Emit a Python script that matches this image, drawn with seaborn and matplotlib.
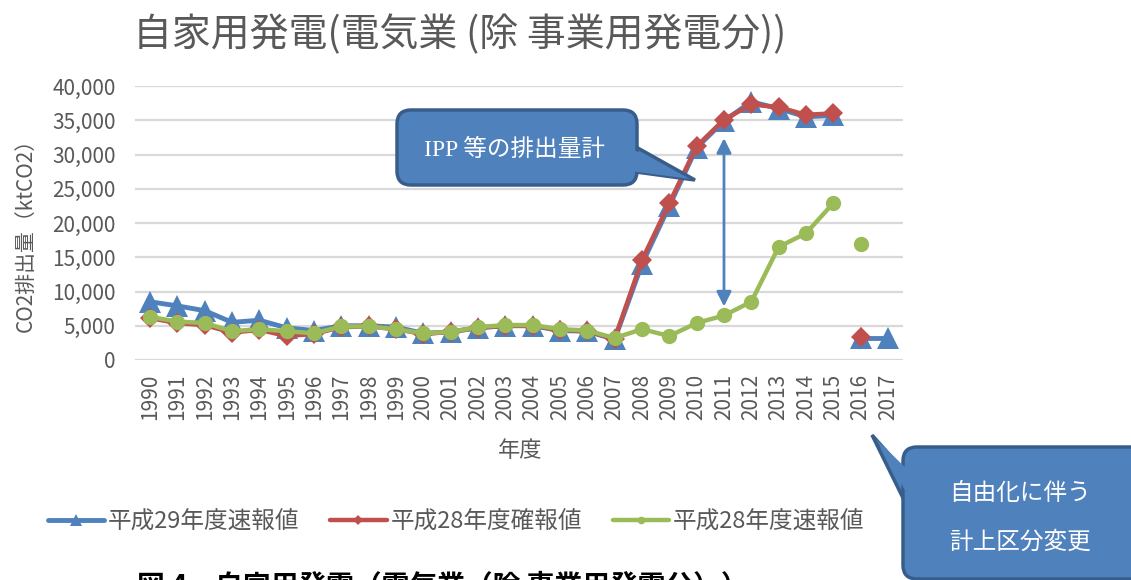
import numpy as np
import pandas as pd
import matplotlib.pyplot as plt
import matplotlib.transforms as mtransforms
from matplotlib.patches import FancyBboxPatch, Polygon
import seaborn as sns

# data (ktCO2)
years = list(range(1990, 2018))
h29_prelim = [8500, 7900, 7200, 5500, 5800, 4700, 4300, 5000, 5000, 4800,
              3900, 4100, 4700, 5000, 5000, 4300, 4200, 3000, 14000, 22500,
              31000, 34900, 37700, 36700, 35500, 35700, 3200, 3200]
h28_final = [6100, 5400, 5100, 4000, 4400, 3500, 3800, 4800, 4900, 4500,
             3800, 4100, 4700, 5000, 5000, 4400, 4200, 3100, 14600, 22900,
             31200, 35100, 37300, 36900, 35800, 36000, 3300]
h28_prelim = [6300, 5600, 5400, 4200, 4500, 4200, 3900, 4900, 4900, 4500,
              3900, 4100, 4800, 5100, 5100, 4500, 4300, 3200, 4500, 3500,
              5400, 6500, 8500, 16500, 18500, 22900, 16900]
series_names = ["平成29年度速報値", "平成28年度確報値", "平成28年度速報値"]
break_year = 2016  # lines are not joined across this year
yticks = list(range(0, 40001, 5000))

title = "自家用発電(電気業 (除 事業用発電分))"
caption = "図 4　自家用発電（電気業（除 事業用発電分））"

W, H = 1131, 580
BLUE, RED, GREEN = "#4F81BD", "#C0504D", "#9BBB59"
GREY = "#595959"

sns.set_theme(style="white")
plt.rcParams["font.family"] = ["Noto Sans CJK JP", "DejaVu Sans"]

fig = plt.figure(figsize=(W / 100, H / 100), dpi=100)
ax = fig.add_axes([135 / W, 1 - 360 / H, 768 / W, 274 / H])

styles = [
    (h29_prelim, BLUE, "^", 16, 3.5),
    (h28_final, RED, "D", 10.5, 3.2),
    (h28_prelim, GREEN, "o", 11, 3.2),
]
handles = []
for (vals, col, mk, ms, lw), name in zip(styles, series_names):
    df = pd.DataFrame({"year": years[:len(vals)], "v": vals})
    for k, seg in enumerate([df[df.year < break_year], df[df.year >= break_year]]):
        sns.lineplot(data=seg, x="year", y="v", ax=ax, color=col, marker=mk,
                     markersize=ms, linewidth=lw, markeredgewidth=0,
                     label=name if k == 0 else None, legend=False)
    handles.append(ax.lines[-2])

ax.set_xlim(1989.45, 2017.55)
ax.set_ylim(0, 40000)
ax.set_xticks(years)
ax.set_xticklabels([str(y) for y in years], rotation=90)
ax.set_yticks(yticks)
ax.set_yticklabels([f"{v:,}" for v in yticks])
ax.tick_params(axis="x", length=0, pad=10, labelsize=15, labelcolor=GREY)
ax.tick_params(axis="y", length=0, pad=14, labelsize=15, labelcolor=GREY)
ax.grid(axis="y", color="#D9D9D9", linewidth=1.6)
ax.grid(axis="x", visible=False)
ax.set_axisbelow(True)
sns.despine(ax=ax, left=True, bottom=True)

ax.set_xlabel("年度", fontsize=16, color=GREY)
ax.xaxis.set_label_coords(0.501, -0.29)
ax.set_ylabel("CO2排出量（ktCO2）", fontsize=15, color=GREY)
ax.yaxis.set_label_coords(-0.128, 0.474)

fig.text(133 / W, 1 - 35 / H, title, fontsize=28, color=GREY, ha="left", va="center")

# double arrow at 2011
ax.annotate("", xy=(2011, 7400), xytext=(2011, 32800),
            arrowprops=dict(arrowstyle="<|-|>", color=BLUE, lw=2, mutation_scale=22))

leg = fig.legend(handles, series_names, loc="center", bbox_to_anchor=(456 / W, 1 - 522 / H),
                 ncol=3, frameon=False, fontsize=17, handlelength=2.4, handletextpad=0.15,
                 columnspacing=1.3, markerscale=0.5)
for t in leg.get_texts():
    t.set_color(GREY)

# callouts drawn in pixel coordinates (origin bottom-left)
pxt = mtransforms.Affine2D().scale(1 / W, 1 / H) + fig.transFigure
FILL, EDGE = "#4F81BD", "#385D8A"


def callout(x0, y0, w, h, tail, inner):
    fig.patches.append(Polygon(tail, closed=True, fc=FILL, ec=EDGE, lw=2.5, transform=pxt))
    fig.patches.append(FancyBboxPatch((x0, y0), w, h, boxstyle="round,pad=0,rounding_size=14",
                                      fc=FILL, ec=EDGE, lw=2.5, transform=pxt))
    fig.patches.append(Polygon(inner, closed=True, fc=FILL, ec="none", transform=pxt))


callout(397, 395, 240, 75,
        [(636, 433), (695, 400), (636, 408)],
        [(630, 432), (690, 401), (630, 409)])
fig.text(515 / W, 1 - 150 / H, "IPP 等の排出量計", fontsize=17, color="white",
         ha="center", va="center", family=["Liberation Serif", "Noto Sans CJK JP"])

callout(903, 1, 250, 132,
        [(905, 108), (872, 145), (905, 78)],
        [(911, 107), (876, 141), (911, 79)])
fig.text(1020 / W, 1 - 493 / H, "自由化に伴う", fontsize=17, color="white", ha="center", va="center")
fig.text(1020 / W, 1 - 542 / H, "計上区分変更", fontsize=17, color="white", ha="center", va="center")

fig.text(137 / W, 1 - 572 / H, caption, fontsize=20, fontweight="bold", color="black",
         ha="left", va="top")

fig.savefig("out.png", dpi=100)
